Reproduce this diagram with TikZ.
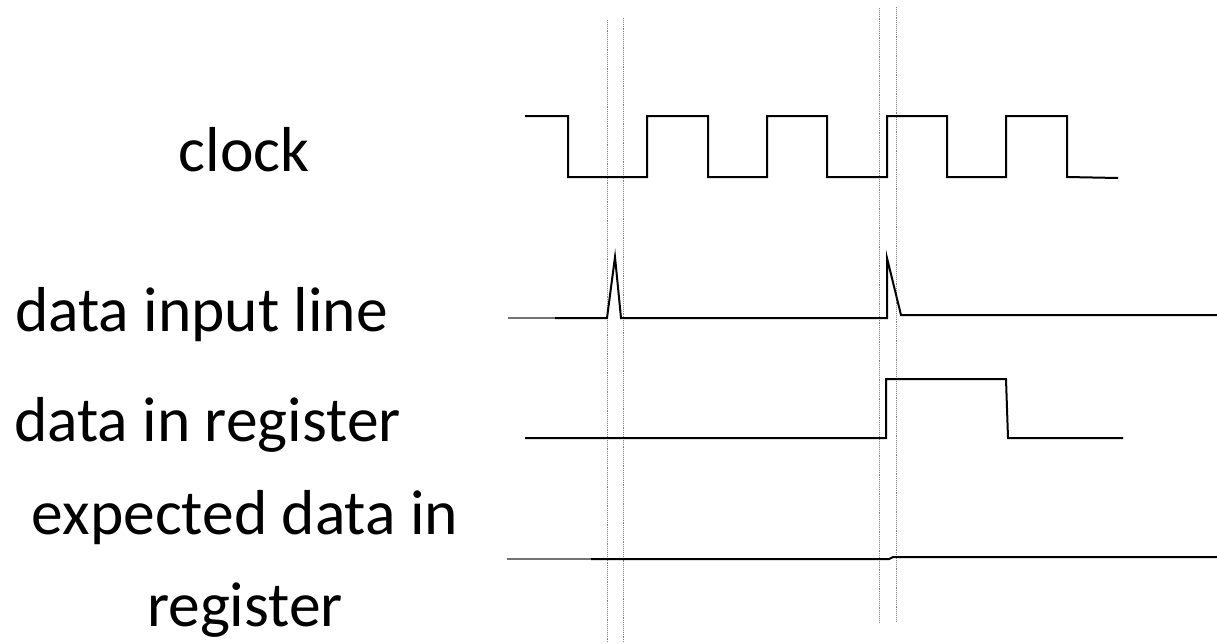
\documentclass[tikz,border=0pt]{standalone}
\usepackage{fontspec}
\setmainfont{Carlito}
\begin{document}
\begin{tikzpicture}[x=1pt,y=-1pt,
  wave/.style={line width=2pt,black,line join=miter},
  fadewave/.style={line width=2pt,black!55},
  marker/.style={gray,line width=0.9pt,densely dotted},
  lbl/.style={inner sep=0pt,font=\fontsize{63.5}{91.7}\selectfont,anchor=base,align=center}]
\useasboundingbox (0,0) rectangle (1217,643);
% labels
\node[lbl] (lclock) at (244,171.7) {clock};
\node[lbl] (linput) at (201.7,331.7) {data input line};
\node[lbl] (lreg) at (207.5,441.7) {data in register};
\node[lbl,anchor=north] (lexp) at (245,490) {expected data in\\register};
% marker lines
\draw[marker] (607,20) -- (607,643);
\draw[marker] (623,18) -- (623,643);
\draw[marker] (879,8) -- (879,623);
\draw[marker] (896,7) -- (896,622);
% clock
\draw[wave] (525,116) -- (568,116) -- (568,177) -- (647,177) -- (647,116) -- (708,116)
  -- (708,177) -- (767,177) -- (767,116) -- (827,116) -- (827,177) -- (887,177)
  -- (887,116) -- (947,116) -- (947,177) -- (1006,177) -- (1006,116) -- (1067,116)
  -- (1067,177) -- (1118,178);
% data input line
\draw[fadewave] (508,318) -- (555,318);
\draw[wave] (555,318) -- (607,318) -- (615,257) -- (621,318) -- (887,318) -- (887,258)
  -- (901,315) -- (1217,315);
% data in register
\draw[wave] (525,438) -- (886,438) -- (886,379) -- (1006,379) -- (1008,438) -- (1123,438);
% expected data in register
\draw[fadewave] (507,559) -- (591,559);
\draw[wave] (591,559) -- (889,559) -- (893,557) -- (1217,557);
\end{tikzpicture}
\end{document}
